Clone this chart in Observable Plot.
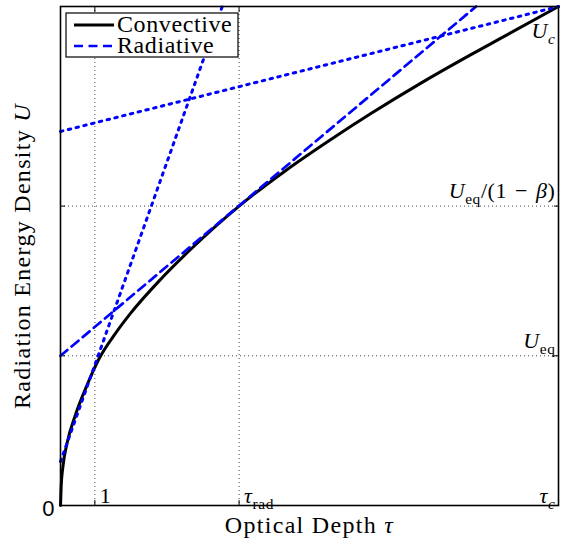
<!DOCTYPE html>
<html><head><meta charset="utf-8">
<script src="https://cdn.jsdelivr.net/npm/d3@7"></script>
<script src="https://cdn.jsdelivr.net/npm/@observablehq/plot@0.6"></script>
<style>body{margin:0;background:#fff} svg{display:block}</style>
</head><body><div id="chart"></div>
<script>
// ---- data ----
const tauC = 14.5, tauRad = 5.2;
const Ueq = 0.3, UeqBeta = 0.6, Uc = 1.0;
const xTickValues = [1, tauRad, tauC];
const xTickLabels = ["1", "{i:τ}{sub:rad}", "{i:τ}{isub:c}"];
const yTickValues = [Ueq, UeqBeta, Uc];
const yTickLabels = ["{i:U}{sub:eq}", "{i:U}{sub:eq}/(1\u2004−\u2004{i:β})", "{i:U}{isub:c}"];
const xTitle = "Optical Depth {i:τ}";
const yTitle = "Radiation Energy Density {i:U}";
const seriesNames = ["Convective", "Radiative"];

const convTau = [0, 0.020, 0.067, 0.195, 0.437, 0.777, 1.115, 1.601, 2.038, 2.912, 3.785, 5.2, 6.551, 7.861, 9.026, 10.482, 11.938, 12.811, 14.5];
const convU   = [0, 0.039, 0.076, 0.126, 0.182, 0.242, 0.293, 0.345, 0.385, 0.453, 0.513, 0.600, 0.671, 0.733, 0.785, 0.846, 0.903, 0.936, 1.0];
const radTau = [0, 12.1];
const radU   = [0.3, 1.0];
const dotSteepTau = [0, 4.71];
const dotSteepU   = [0.088, 1.0];
const dotShallowTau = [0, 14.5];
const dotShallowU   = [0.7495, 1.0];

const zip = (xs, ys) => xs.map((x, i) => ({x, y: ys[i]}));
const conv = zip(convTau, convU);
const rad = zip(radTau, radU);
const dotA = zip(dotSteepTau, dotSteepU);
const dotB = zip(dotShallowTau, dotShallowU);
const xLab = xTickValues.map((v, i) => ({v, t: xTickLabels[i]}));
const yLab = yTickValues.map((v, i) => ({v, t: yTickLabels[i]}));

const serif = "Liberation Serif, Times New Roman, serif";
const blue = "#0000ff";
const FS = 22;   // tick labels
const TS = 24;   // titles / legend

const chart = Plot.plot({
  width: 564, height: 538,
  marginLeft: 60, marginRight: 6, marginTop: 6, marginBottom: 33,
  style: {fontFamily: serif, fontSize: FS + "px", background: "#fff", color: "#000"},
  x: {domain: [0, tauC], axis: null},
  y: {domain: [0, Uc], axis: null},
  marks: [
    Plot.gridX([1, tauRad], {stroke: "#444", strokeOpacity: 1, strokeWidth: 1, strokeDasharray: "1,3"}),
    Plot.gridY([Ueq, UeqBeta], {stroke: "#444", strokeOpacity: 1, strokeWidth: 1, strokeDasharray: "1,3"}),
    Plot.axisX({anchor: "bottom", ticks: [1, tauRad], tickSize: -5, tickFormat: () => "", label: null}),
    Plot.axisX({anchor: "top", ticks: [1, tauRad], tickSize: -5, tickFormat: () => "", label: null}),
    Plot.axisY({anchor: "left", ticks: [Ueq, UeqBeta], tickSize: -5, tickFormat: () => "", label: null}),
    Plot.axisY({anchor: "right", ticks: [Ueq, UeqBeta], tickSize: -5, tickFormat: () => "", label: null}),
    Plot.line(conv, {x: "x", y: "y", stroke: "#000", strokeWidth: 3, curve: "monotone-x"}),
    Plot.line(rad, {x: "x", y: "y", stroke: blue, strokeWidth: 2.7, strokeDasharray: "9,5.5"}),
    Plot.line(dotA, {x: "x", y: "y", stroke: blue, strokeWidth: 3, strokeDasharray: "2.5,5.5"}),
    Plot.line(dotB, {x: "x", y: "y", stroke: blue, strokeWidth: 3, strokeDasharray: "2.5,5.5"}),
    Plot.frame({stroke: "#000", strokeWidth: 1.6}),
    // x tick labels
    Plot.text(xLab.slice(0, 2), {x: "v", y: 0, text: "t", textAnchor: "start", dx: 5, dy: -10, fontSize: FS, className: "mathTick"}),
    Plot.text(xLab.slice(2), {x: "v", y: 0, text: "t", textAnchor: "end", dx: -3, dy: -10, fontSize: FS, className: "mathTick"}),
    // y tick labels
    Plot.text(yLab.slice(0, 2), {x: tauC, y: "v", text: "t", textAnchor: "end", dx: -3, dy: -15, fontSize: FS, className: "mathTick"}),
    Plot.text(yLab.slice(2), {x: tauC, y: "v", text: "t", textAnchor: "end", dx: -3, dy: 24, fontSize: FS, className: "mathTick"}),
    Plot.text(["0"], {x: 0, y: 0, text: d => d, textAnchor: "end", dx: -6, dy: 3, fontSize: 22, fontFamily: "Liberation Sans, Arial, sans-serif"}),
    // axis titles
    Plot.text([xTitle], {frameAnchor: "bottom", text: d => d, textAnchor: "middle", lineAnchor: "middle", dy: 20, fontSize: TS, className: "mathTitle"}),
    Plot.text([yTitle], {frameAnchor: "left", text: d => d, textAnchor: "middle", lineAnchor: "middle", dx: -38, rotate: -90, fontSize: TS, className: "mathTitle"})
  ]
});

// math-ish markup -> tspans
function renderMath(el) {
  const src = el.textContent;
  const fs = parseFloat(el.getAttribute("font-size")) || FS;
  el.textContent = "";
  const re = /\{(i|sub|isub):([^}]*)\}|([^{]+)/g;
  let m, shift = 0;
  while ((m = re.exec(src))) {
    const ts = document.createElementNS("http://www.w3.org/2000/svg", "tspan");
    const type = m[1], txt = m[1] ? m[2] : m[3];
    let target = 0;
    if (type === "sub" || type === "isub") {
      ts.setAttribute("font-size", (fs * 0.7).toFixed(1));
      target = fs * 0.28;
    }
    if (type === "i" || type === "isub") ts.setAttribute("font-style", "italic");
    if (target !== shift) { ts.setAttribute("dy", (target - shift).toFixed(2)); shift = target; }
    ts.textContent = txt;
    el.appendChild(ts);
  }
}
const svg = d3.select(chart);
svg.selectAll("g.mathTick text").each(function() { renderMath(this); }).attr("letter-spacing", "0.6");
svg.selectAll("g.mathTitle text").each(function() { renderMath(this); }).attr("letter-spacing", "1.3");

// legend (inside the plot frame, top-left)
const lg = svg.append("g").attr("transform", "translate(66,13)");
lg.append("rect").attr("width", 172).attr("height", 44).attr("fill", "#fff").attr("stroke", "#000").attr("stroke-width", 1.2);
const rows = [
  {name: seriesNames[0], stroke: "#000", dash: null, w: 3},
  {name: seriesNames[1], stroke: blue, dash: "9,5.5", w: 2.7}
];
rows.forEach((r, i) => {
  const y = 12 + i * 21;
  lg.append("line").attr("x1", 8).attr("x2", 48).attr("y1", y).attr("y2", y)
    .attr("stroke", r.stroke).attr("stroke-width", r.w).attr("stroke-dasharray", r.dash);
  lg.append("text").attr("x", 51).attr("y", y + 7).attr("text-anchor", "start")
    .attr("font-family", serif).attr("font-size", TS).attr("letter-spacing", "0.6").text(r.name);
});

document.getElementById("chart").appendChild(chart);
</script>
</body></html>
